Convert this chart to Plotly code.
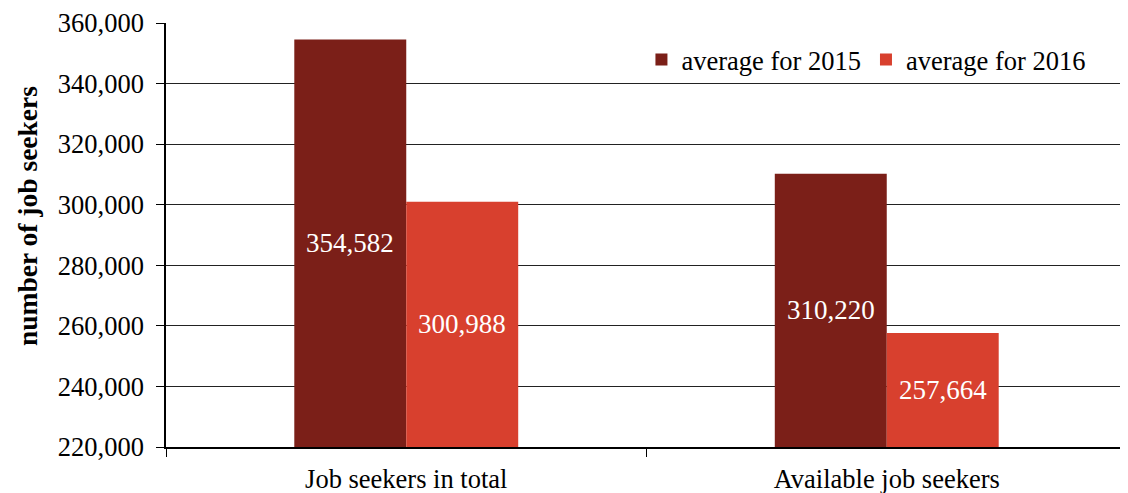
import plotly.graph_objects as go

categories = ["Job seekers in total", "Available job seekers"]
values_2015 = [354582, 310220]
values_2016 = [300988, 257664]
series_names = ["average for 2015", "average for 2016"]
tick_vals = [220000, 240000, 260000, 280000, 300000, 320000, 340000, 360000]
y_min, y_max = 220000, 360000

font_family = "Liberation Serif"
colors = ["#7B1F18", "#D8402E"]
fs = 26.5

fig = go.Figure()
for name, vals, color in [(series_names[0], values_2015, colors[0]),
                          (series_names[1], values_2016, colors[1])]:
    fig.add_trace(go.Bar(
        x=categories, y=vals, name=name,
        marker=dict(color=color, line=dict(width=0)),
        textposition="none",
    ))

# value labels centred in the visible part of each bar
annotations = []
for vals, shift in [(values_2015, -56), (values_2016, 56)]:
    for cat, v in zip(categories, vals):
        annotations.append(dict(
            x=cat, y=(y_min + v) / 2, xref="x", yref="y",
            text=f"{v:,}", showarrow=False, xshift=shift,
            font=dict(family=font_family, size=27, color="white"),
        ))

annotations.append(dict(
    text="<b>number of job seekers</b>", textangle=-90,
    xref="paper", yref="paper", x=-0.1435, y=0.545,
    xanchor="center", yanchor="middle", showarrow=False,
    font=dict(family=font_family, size=27.5, color="black"),
))

fig.update_layout(
    width=1120, height=485,
    margin=dict(l=158, r=1, t=15, b=46),
    paper_bgcolor="white", plot_bgcolor="white",
    barmode="group", bargap=0.534, bargroupgap=0,
    font=dict(family=font_family, size=fs, color="black"),
    showlegend=True,
    legend=dict(orientation="h", x=0.963, xanchor="right", y=0.913, yanchor="middle",
                font=dict(family=font_family, size=fs, color="black"),
                bgcolor="rgba(0,0,0,0)", tracegroupgap=0, itemwidth=30),
    annotations=annotations,
)
fig.update_xaxes(
    automargin=False,
    showline=True, linecolor="black", linewidth=1.5,
    ticks="outside", tickson="boundaries", ticklen=8, tickcolor="black",
    tickfont=dict(family=font_family, size=fs, color="black"),
    ticklabelstandoff=7,
    showgrid=False,
)
fig.update_yaxes(
    automargin=False,
    range=[y_min, y_max], tickvals=tick_vals,
    tickformat=",d",
    showline=True, linecolor="black", linewidth=1.5,
    ticks="outside", ticklen=8, tickcolor="black",
    tickfont=dict(family=font_family, size=fs, color="black"),
    ticklabelstandoff=7,
    showgrid=True, gridcolor="#222222", gridwidth=1,
    zeroline=False,
)

fig.write_html("out.html")
